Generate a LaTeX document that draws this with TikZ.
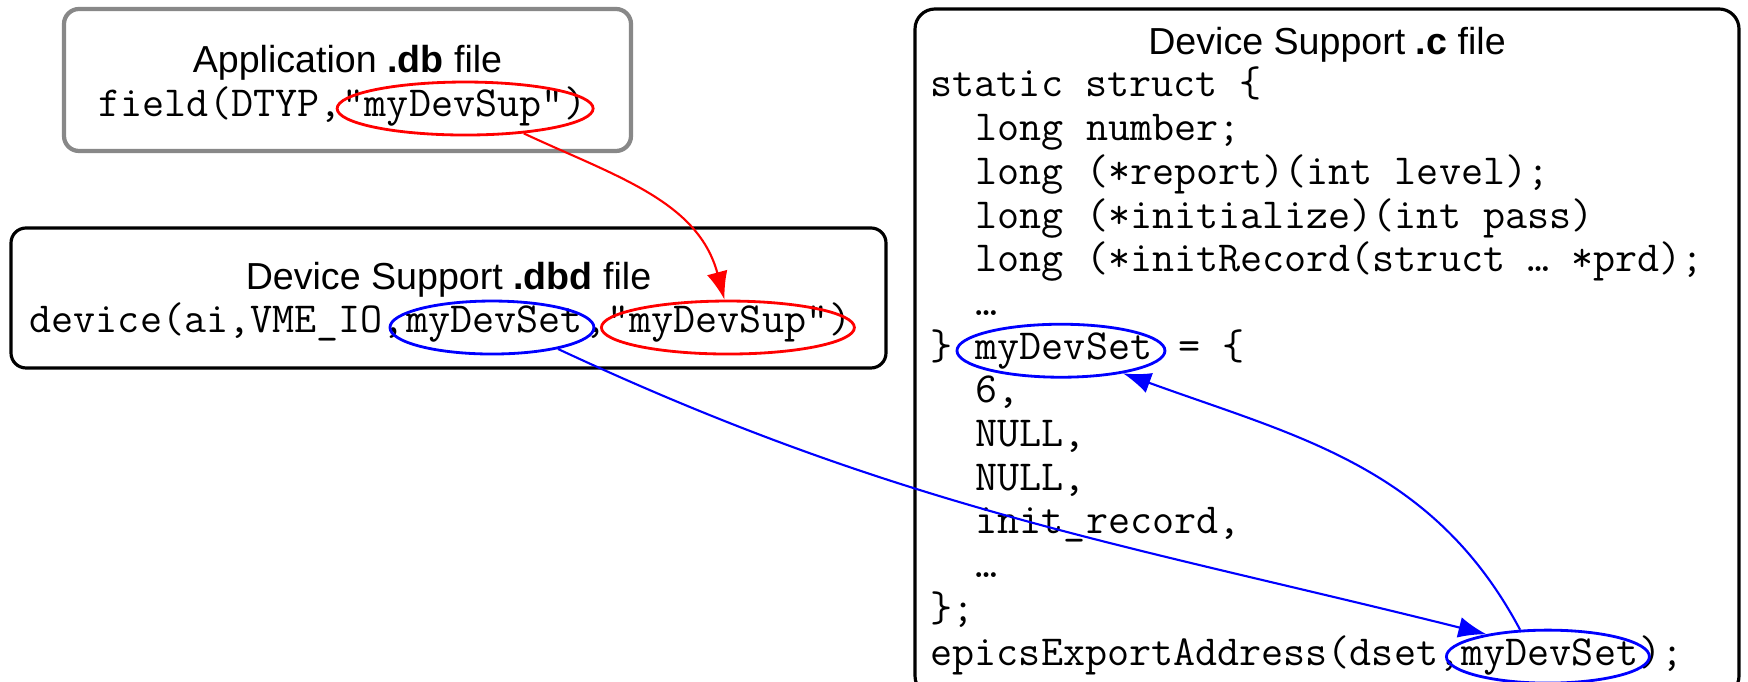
\documentclass[tikz,border=0pt]{standalone}
\usepackage{fontspec}
\setsansfont{Liberation Sans}
\usepackage{tikz}
\usetikzlibrary{shapes.geometric, arrows.meta, positioning}
\definecolor{dbgray}{RGB}{136,136,136}
\definecolor{suprred}{RGB}{255,0,0}
\definecolor{setblue}{RGB}{0,0,255}
\newcommand{\titlefont}{\fontsize{10.7pt}{12pt}\sffamily}
\newcommand{\codefont}{\fontsize{12.19pt}{14pt}\ttfamily}

\begin{document}
\begin{tikzpicture}[x=0.1mm, y=-0.1mm,
  filebox/.style={draw, rounded corners=1.5mm, line width=0.9pt, inner sep=0pt},
  title/.style={font=\titlefont, inner sep=0pt, anchor=base},
  code/.style={font=\codefont, inner sep=0pt, anchor=base west},
  ring/.style={ellipse, draw, line width=0.8pt, minimum height=5.3mm, inner sep=0pt},
  link/.style={line width=0.6pt, -{Latex[length=2.8mm, width=2.1mm]}}]
\useasboundingbox (0,0) rectangle (1748,682);
\clip (0,0) rectangle (1748,682);

% the three files
\node[filebox, draw=dbgray, line width=1.2pt, minimum width=56.7mm, minimum height=14.2mm] (dbfile) at (347.5,80) {};
\node[filebox, minimum width=87.5mm, minimum height=14mm] (dbdfile) at (448.5,298) {};
\node[filebox, rounded corners=2mm, minimum width=82.4mm, minimum height=68.7mm] (cfile) at (1327,352.5) {};

\node[title] (dbtitle) at (347.5,73) {Application \textbf{.db} file};
\node[title] (dbdtitle) at (448.5,290) {Device Support \textbf{.dbd} file};
\node[title] (ctitle) at (1327,55) {Device Support \textbf{.c} file};

% .db line
\node[code] (dbpre) at (98,117) {field(DTYP,};
\node[code] (dbsup) at (dbpre.base east) {"myDevSup"};
\node[code] (dbpost) at (dbsup.base east) {)};

% .dbd line
\node[code] (dbdpre) at (29,333) {device(ai,VME\_IO,};
\node[code] (dbdset) at (dbdpre.base east) {myDevSet};
\node[code] (dbdcomma) at (dbdset.base east) {,};
\node[code] (dbdsup) at (dbdcomma.base east) {"myDevSup"};
\node[code] (dbdpost) at (dbdsup.base east) {)};

% .c lines
\foreach \row/\ind/\txt in {0/0/{static struct \{}, 1/2/{long number;},
    2/2/{long (*report)(int level);}, 3/2/{long (*initialize)(int pass)},
    4/2/{long (*initRecord(struct … *prd);}, 5/2/{…}, 7/2/{6,}, 8/2/{NULL,},
    9/2/{NULL,}, 10/2/{init\_record,}, 11/2/{…}, 12/0/{\};}} {
  \node[code] (cline\row) at (930+22.5*\ind, 97+43.7*\row) {\txt};
}
\node[code] (cline6) at (930, 97+43.7*6) {\}};
\node[code] (devset) at (930+22.5*2, 97+43.7*6) {myDevSet};
\node[code] (cline6b) at (930+22.5*11, 97+43.7*6) {= \{};
\node[code] (cline13) at (930, 97+43.7*13) {epicsExportAddress(dset,};
\node[code] (expset) at (cline13.base east) {myDevSet};
\node[code] (cline13b) at (expset.base east) {);};

% rings
\node[ring, draw=suprred, minimum width=25.6mm, xshift=1.2mm] (dbring) at (dbsup) {};
\node[ring, draw=setblue, minimum width=20.4mm, xshift=-0.25mm, yshift=-0.3mm] (dbdsetring) at (dbdset) {};
\node[ring, draw=suprred, minimum width=25.3mm, xshift=1mm, yshift=-0.3mm] (dbdsupring) at (dbdsup) {};
\node[ring, draw=setblue, minimum width=20.8mm, xshift=-0.3mm] (devring) at (devset) {};
\node[ring, draw=setblue, minimum width=20.3mm, xshift=-0.2mm] (expring) at (expset) {};

% links
\draw[link, suprred] (dbring.-23) to[out=-25, in=105] (dbdsupring.97);
\draw[link, setblue] (dbdsetring.-18) to[out=-25, in=166] (expring.160);
\draw[link, setblue] (expring.136) to[out=118, in=-20] (devring.-20);
\end{tikzpicture}
\end{document}
